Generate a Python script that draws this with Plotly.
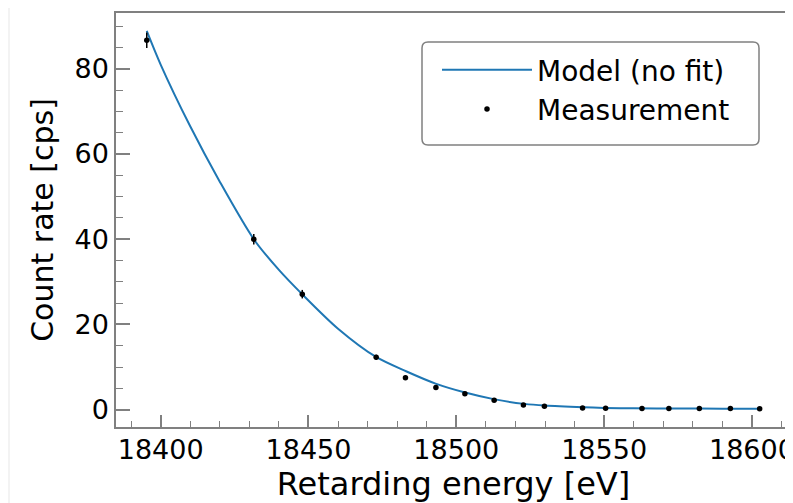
import plotly.graph_objects as go

energy = [18395.3, 18431.5, 18447.9, 18472.9, 18482.8, 18493.1, 18502.9, 18512.8,
          18522.7, 18529.8, 18542.7, 18550.5, 18562.8, 18571.9, 18582.2, 18592.7, 18602.6]
rate = [86.7, 40.0, 27.1, 12.3, 7.5, 5.2, 3.7, 2.2, 1.1, 0.8, 0.4, 0.3, 0.25, 0.25, 0.25, 0.25, 0.2]
rate_err = [1.8, 1.25, 1.0, 0.6, 0.5, 0.4, 0.35, 0.3, 0.2, 0.2, 0.15, 0.15, 0.1, 0.1, 0.1, 0.1, 0.1]

# Model curve
model_energy = [18395.3, 18400, 18410, 18420, 18431.5, 18440, 18448, 18460, 18473,
                18483, 18493, 18503, 18513, 18523, 18530, 18543, 18550, 18560, 18575, 18590, 18602.6]
model_rate = [88.9, 81.0, 66.5, 53.5, 40.0, 32.8, 27.0, 19.0, 12.3,
              9.0, 6.1, 4.0, 2.4, 1.35, 0.95, 0.55, 0.4, 0.3, 0.25, 0.23, 0.22]

x_ticks = [18400, 18450, 18500, 18550, 18600]
x_ticktext = ["18400", "18450", "18500", "18550", "18600"]
y_ticks = [0, 20, 40, 60, 80]
y_ticktext = ["0", "20", "40", "60", "80"]

FONT = "DejaVu Sans"
GRAY = "#808080"

# page offset (browser body margin) and figure size
OFF = 8
FW, FH = 850, 503 - OFF   # wider than the window so the last tick label is drawn (then cropped)

# plot-area geometry in figure pixels
L, R, T, B = 116 - OFF, 791 - OFF, 13 - OFF, 427 - OFF
W, H = R - L, B - T


def px_x(screen_x):
    return (screen_x - OFF - L) / W


def px_y(screen_y):
    return 1 - (screen_y - OFF - T) / H


def rounded_rect(x0, y0, x1, y1, r):
    rx, ry = r / W, r / H
    a0, a1 = px_x(x0), px_x(x1)
    b0, b1 = px_y(y1), px_y(y0)  # bottom, top
    return (f"M {a0+rx},{b1} L {a1-rx},{b1} Q {a1},{b1} {a1},{b1-ry} "
            f"L {a1},{b0+ry} Q {a1},{b0} {a1-rx},{b0} L {a0+rx},{b0} "
            f"Q {a0},{b0} {a0},{b0+ry} L {a0},{b1-ry} Q {a0},{b1} {a0+rx},{b1} Z")


fig = go.Figure()
fig.add_trace(go.Scatter(
    x=model_energy, y=model_rate, mode="lines", name="Model (no fit)",
    line=dict(color="#1f77b4", width=2, shape="spline", smoothing=0.8),
))
fig.add_trace(go.Scatter(
    x=energy, y=rate, mode="markers", name="Measurement",
    marker=dict(color="black", size=5.5),
    error_y=dict(type="data", array=rate_err, color="black", thickness=1.5, width=0),
))

axis_common = dict(
    showgrid=False, zeroline=False, showline=True, linecolor=GRAY, linewidth=1.5,
    mirror=True, ticks="inside", tickcolor=GRAY, tickwidth=1.5, automargin=False,
    tickfont=dict(family=FONT, size=27, color="black"),
)

fig.update_xaxes(
    range=[18384.9, 18613.2], tickvals=x_ticks, ticktext=x_ticktext, ticklen=12,
    minor=dict(dtick=10, ticks="inside", ticklen=6, tickcolor=GRAY, tickwidth=1.2),
    title=dict(text="Retarding energy [eV]", font=dict(family=FONT, size=32, color="black"), standoff=8),
    ticklabelstandoff=-2,
    **axis_common,
)
fig.update_yaxes(
    range=[-4.08, 93.1], tickvals=y_ticks, ticktext=y_ticktext, ticklen=14,
    minor=dict(dtick=5, ticks="inside", ticklen=7, tickcolor=GRAY, tickwidth=1.2),
    title=dict(text="Count rate [cps]", font=dict(family=FONT, size=30, color="black"), standoff=12),
    ticklabelstandoff=0,
    **axis_common,
)

shapes = [
    # white page area over the light-grey frame
    dict(type="rect", xref="paper", yref="paper", x0=px_x(10), x1=px_x(791), y0=px_y(503), y1=px_y(0),
         fillcolor="white", line=dict(width=0), layer="below"),
    # rounded legend frame
    dict(type="path", xref="paper", yref="paper", path=rounded_rect(422, 42, 759, 145, 6),
         fillcolor="white", line=dict(color=GRAY, width=1.5), layer="above"),
]

fig.update_layout(
    width=FW, height=FH,
    margin=dict(l=L, r=FW - R, t=T, b=FH - B, pad=0),
    paper_bgcolor="#f3f3f3", plot_bgcolor="white",
    shapes=shapes,
    showlegend=True,
    legend=dict(
        x=px_x(437), y=px_y(45), xanchor="left", yanchor="top",
        bgcolor="rgba(0,0,0,0)", borderwidth=0,
        font=dict(family=FONT, size=28, color="black"),
        itemwidth=90, tracegroupgap=0,
    ),
)

fig.write_html("out.html")
